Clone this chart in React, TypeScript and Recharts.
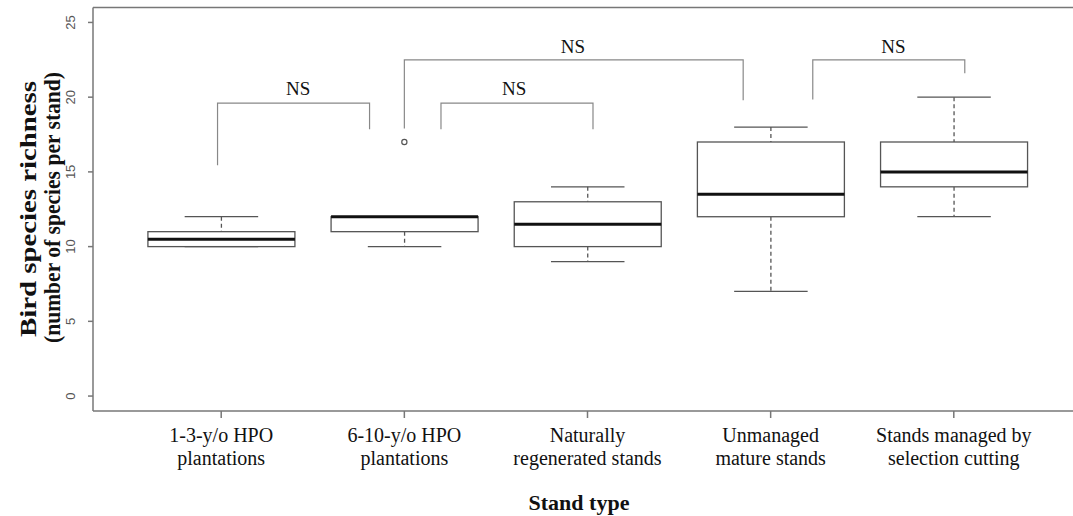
import React from 'react';
import { ComposedChart, Bar, Line, Scatter, XAxis, YAxis, ReferenceLine } from 'recharts';

const categories = [
  '1-3-y/o HPO\nplantations',
  '6-10-y/o HPO\nplantations',
  'Naturally\nregenerated stands',
  'Unmanaged\nmature stands',
  'Stands managed by\nselection cutting',
];
const groupIndex = [1, 2, 3, 4, 5];
const whiskerLow = [10, 10, 9, 7, 12];
const lowerQuartile = [10, 11, 10, 12, 14];
const medians = [10.5, 12, 11.5, 13.5, 15];
const upperQuartile = [11, 12, 13, 17, 17];
const whiskerHigh = [12, 12, 14, 18, 20];

const outlierGroups = [2];
const outlierValues = [17];

const yTicks = [0, 5, 10, 15, 20, 25];

// comparison brackets, in axis units
const bracketLeft = [0.98, 2.0, 2.2, 4.23];
const bracketRight = [1.81, 3.85, 3.03, 5.06];
const bracketTop = [19.6, 22.5, 19.6, 22.5];
const bracketLeftEnd = [15.45, 17.9, 17.85, 19.85];
const bracketRightEnd = [17.85, 19.8, 17.85, 21.6];
const bracketText = ['NS', 'NS', 'NS', 'NS'];
const labelX = [1.42, 2.92, 2.6, 4.67];
const labelY = [20.6, 23.4, 20.6, 23.4];

const SERIF = "'Liberation Serif', 'Times New Roman', serif";
const SANS = "'Liberation Sans', Arial, sans-serif";

const boxData = groupIndex.map((x, i) => ({
  x,
  whisker: [whiskerLow[i], whiskerHigh[i]],
  q1: lowerQuartile[i],
  median: medians[i],
  q3: upperQuartile[i],
}));

const outlierData = outlierGroups.map((g, i) => ({ x: g, y: outlierValues[i] }));

const brackets = bracketLeft.map((l, i) => [
  { x: l, y: bracketLeftEnd[i] },
  { x: l, y: bracketTop[i] },
  { x: bracketRight[i], y: bracketTop[i] },
  { x: bracketRight[i], y: bracketRightEnd[i] },
]);

const labelData = bracketText.map((t, i) => ({ x: labelX[i], y: labelY[i], text: t }));

const BoxShape = (props: any) => {
  const { x, y, width, height, payload } = props;
  if (!payload) return null;
  const lo = payload.whisker[0];
  const hi = payload.whisker[1];
  const top = Math.min(y, y + height);
  const bottom = Math.max(y, y + height);
  const py = (v: number) => top + ((bottom - top) * (hi - v)) / (hi - lo);
  const cx = x + width / 2;
  const cap = width / 4;
  const stroke = '#555';
  return (
    <g>
      <line x1={cx} x2={cx} y1={py(hi)} y2={py(payload.q3)} stroke={stroke} strokeWidth={1.3} strokeDasharray="4 3" />
      <line x1={cx} x2={cx} y1={py(payload.q1)} y2={py(lo)} stroke={stroke} strokeWidth={1.3} strokeDasharray="4 3" />
      <line x1={cx - cap} x2={cx + cap} y1={py(hi)} y2={py(hi)} stroke={stroke} strokeWidth={1.3} />
      <line x1={cx - cap} x2={cx + cap} y1={py(lo)} y2={py(lo)} stroke={stroke} strokeWidth={1.3} />
      <rect
        x={x}
        y={py(payload.q3)}
        width={width}
        height={py(payload.q1) - py(payload.q3)}
        fill="#fff"
        stroke={stroke}
        strokeWidth={1.3}
      />
      <line x1={x} x2={x + width} y1={py(payload.median)} y2={py(payload.median)} stroke="#111" strokeWidth={3} />
    </g>
  );
};

const CategoryTick = (props: any) => {
  const { x, y, payload } = props;
  const lines = categories[payload.value - 1].split('\n');
  return (
    <text x={x} y={y} textAnchor="middle" fontFamily={SERIF} fontSize={20} fill="#111">
      {lines.map((l, i) => (
        <tspan key={i} x={x} dy={i === 0 ? 22 : 23}>
          {l}
        </tspan>
      ))}
    </text>
  );
};

const ValueTick = (props: any) => {
  const { x, y, payload } = props;
  const tx = x - 15;
  return (
    <text
      x={tx}
      y={y}
      transform={`rotate(-90, ${tx}, ${y})`}
      textAnchor="middle"
      dominantBaseline="central"
      fontFamily={SANS}
      fontSize={13}
      fill="#555"
    >
      {payload.value}
    </text>
  );
};

const YTitle = (props: any) => {
  const cy = 209;
  return (
    <g fontFamily={SERIF} fontSize={24} fontWeight="bold" fill="#111">
      <text
        x={36}
        y={cy}
        transform={`rotate(-90, 36, ${cy})`}
        textAnchor="middle"
        textLength={256}
        lengthAdjust="spacingAndGlyphs"
      >
        Bird species richness
      </text>
      <text
        x={60}
        y={cy - 1.5}
        transform={`rotate(-90, 60, ${cy - 1.5})`}
        textAnchor="middle"
        textLength={271}
        lengthAdjust="spacingAndGlyphs"
      >
        (number of species per stand)
      </text>
    </g>
  );
};

const XTitle = (props: any) => (
  <text x={579} y={502} textAnchor="middle" dominantBaseline="central" fontFamily={SERIF} fontSize={22} fontWeight="bold" fill="#111">
    Stand type
  </text>
);

const NsShape = (props: any) => {
  const { cx, cy, payload } = props;
  return (
    <text x={cx} y={cy} textAnchor="middle" dominantBaseline="central" fontFamily={SERIF} fontSize={19} fill="#111">
      {payload.text}
    </text>
  );
};

const OutlierShape = (props: any) => {
  const { cx, cy } = props;
  return <circle cx={cx} cy={cy} r={2.6} fill="none" stroke="#555" strokeWidth={1.2} />;
};

export default function App() {
  return (
    <div
      style={{
        position: 'absolute',
        left: 0,
        top: 0,
        width: 1073,
        height: 516,
        overflow: 'hidden',
        background: '#fff',
      }}
    >
      <ComposedChart
        width={1090}
        height={516}
        data={boxData}
        margin={{ top: 7.5, right: 8, bottom: 0, left: 0 }}
        barCategoryGap="10%"
      >
        <XAxis
          type="number"
          dataKey="x"
          domain={[0.3, 5.7]}
          ticks={groupIndex}
          interval={0}
          allowDataOverflow
          height={105}
          tickSize={7}
          stroke="#777"
          strokeWidth={1.5}
          tick={<CategoryTick />}
          label={<XTitle />}
        />
        {/* band axis used only to size the boxes: 0.2 units of padding on each side */}
        <XAxis xAxisId="band" type="category" dataKey="x" hide padding={{ left: 36.6, right: 36.6 }} />
        <YAxis
          type="number"
          domain={[-1, 26]}
          ticks={yTicks}
          interval={0}
          allowDataOverflow
          width={93}
          tickSize={5}
          stroke="#777"
          strokeWidth={1.5}
          tick={<ValueTick />}
          label={<YTitle />}
        />
        <ReferenceLine y={26} stroke="#777" strokeWidth={1.5} />
        <ReferenceLine x={5.7} stroke="#777" strokeWidth={1.5} />
        <Bar xAxisId="band" dataKey="whisker" shape={<BoxShape />} isAnimationActive={false} />
        {brackets.map((b, i) => (
          <Line
            key={i}
            data={b}
            dataKey="y"
            type="linear"
            stroke="#888"
            strokeWidth={1.2}
            dot={false}
            activeDot={false}
            isAnimationActive={false}
          />
        ))}
        <Scatter data={outlierData} dataKey="y" shape={<OutlierShape />} isAnimationActive={false} />
        <Scatter data={labelData} dataKey="y" shape={<NsShape />} isAnimationActive={false} />
      </ComposedChart>
    </div>
  );
}
